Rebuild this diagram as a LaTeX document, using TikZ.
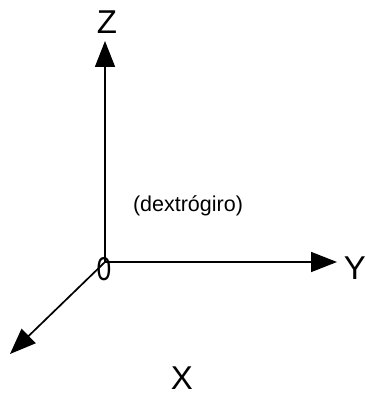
\documentclass[tikz,border=0pt]{standalone}
\usepackage{fontspec}
\setmainfont{Liberation Sans}
\usetikzlibrary{arrows.meta}

\begin{document}
\begin{tikzpicture}[x=1pt, y=-1pt,
  axis/.style={-{Triangle[length=26pt, width=20pt]}, line width=1.7pt, black},
  letter/.style={inner sep=0pt, font=\fontsize{33}{36}\selectfont},
  note/.style={inner sep=0pt, font=\fontsize{21.5}{24}\selectfont}
]
  \useasboundingbox (0,0) rectangle (365,396);
  \coordinate (o) at (105,262);
  \coordinate (ztip) at (105,41);
  \coordinate (ytip) at (337,262);
  \coordinate (xtip) at (10,354);

  \node[letter] (zlab) at (107,22) {Z};
  \node[letter] (ylab) at (355,268) {Y};
  \node[letter] (xlab) at (182,378) {X};
  \node[note] (hand) at (188,206) {(dextrógiro)};
  \node[inner sep=0pt, font=\fontsize{33}{36}\selectfont, xscale=0.8, transform shape] (zero) at (104,269) {0};

  \draw[axis] (o) -- (ztip);
  \draw[axis] (o) -- (ytip);
  \draw[axis] (o) -- (xtip);
\end{tikzpicture}
\end{document}
